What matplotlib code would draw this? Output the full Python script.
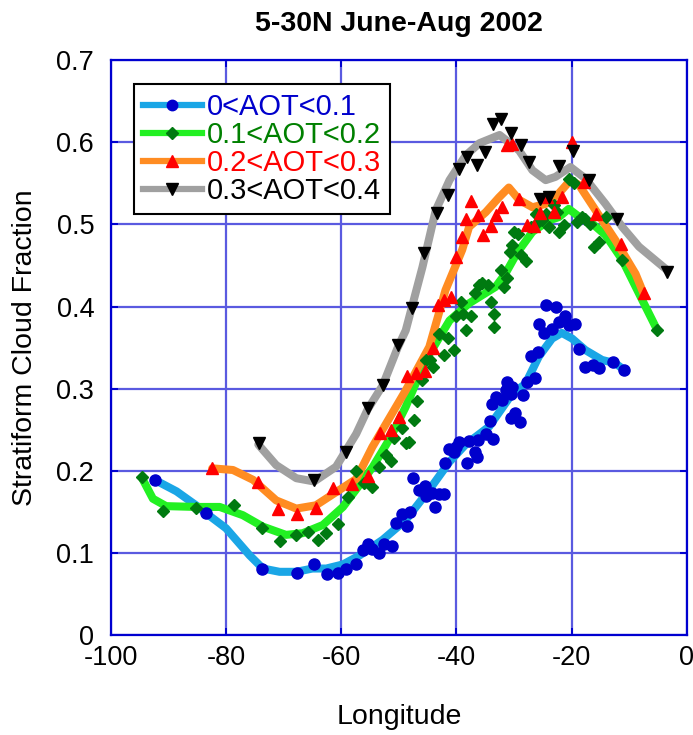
import numpy as np
import matplotlib
matplotlib.use("Agg")
import matplotlib.pyplot as plt
from matplotlib.lines import Line2D

plt.rcParams['font.family'] = ['Liberation Sans', 'DejaVu Sans']
plt.rcParams['axes.unicode_minus'] = False

# 0<AOT<0.1 : binned points and smoothed curve
aot1_lon = [-92.4, -83.5, -73.8, -67.7, -64.7, -62.5, -60.6, -59.1, -57.5, -56.3,
            -55.3, -54.6, -53.5, -52.5, -51.1, -50.5, -49.5, -48.6, -48.1, -47.6,
            -46.5, -45.4, -45.2, -44.3, -43.8, -43.1, -42.1, -41.9, -41.3, -40.1,
            -40.4, -39.5, -38.1, -37.9, -36.7, -36.5, -36.2, -34.9, -34.2, -33.6,
            -33.9, -33.2, -32.0, -31.4, -31.2, -30.6, -30.4, -30.6, -29.8, -28.9,
            -28.5, -27.7, -26.3, -27.1, -25.8, -25.7, -24.8, -24.4, -22.7, -23.4,
            -22.2, -21.1, -20.5, -19.4, -18.7, -17.6, -16.3, -15.3, -12.8, -10.9]
aot1_cf = [0.189, 0.149, 0.080, 0.076, 0.087, 0.074, 0.076, 0.081, 0.087, 0.103,
           0.111, 0.105, 0.100, 0.111, 0.108, 0.137, 0.147, 0.133, 0.150, 0.191,
           0.177, 0.181, 0.169, 0.173, 0.156, 0.172, 0.172, 0.210, 0.226, 0.229,
           0.223, 0.235, 0.210, 0.236, 0.223, 0.217, 0.237, 0.245, 0.261, 0.239,
           0.281, 0.290, 0.286, 0.298, 0.308, 0.294, 0.302, 0.264, 0.271, 0.260,
           0.292, 0.308, 0.313, 0.340, 0.345, 0.379, 0.368, 0.402, 0.400, 0.373,
           0.381, 0.388, 0.377, 0.379, 0.348, 0.327, 0.329, 0.325, 0.333, 0.323]
aot1_fit_lon = [-92.4, -88.6, -85.2, -83.4, -80.0, -75.9, -73.6, -70.7, -67.8, -65.0,
                -62.6, -59.7, -56.8, -52.8, -48.8, -44.7, -41.2, -38.4, -34.3, -30.3,
                -28.0, -25.7, -23.4, -21.7, -19.9, -17.6, -14.7, -12.4, -10.9]
aot1_fit_cf = [0.189, 0.175, 0.158, 0.148, 0.130, 0.097, 0.081, 0.077, 0.077, 0.081,
               0.081, 0.086, 0.097, 0.116, 0.140, 0.177, 0.211, 0.232, 0.254, 0.294,
               0.306, 0.339, 0.361, 0.368, 0.361, 0.347, 0.335, 0.331, 0.323]

# 0.1<AOT<0.2
aot2_lon = [-94.6, -90.9, -85.3, -78.7, -73.8, -70.7, -67.8, -65.7, -64.1, -62.6,
            -60.6, -58.8, -57.4, -56.0, -54.7, -53.5, -52.2, -51.4, -50.8, -49.5,
            -48.8, -48.2, -47.3, -46.9, -45.9, -45.2, -44.6, -44.0, -43.0, -42.2,
            -41.4, -40.4, -40.1, -39.2, -38.8, -38.4, -37.5, -36.7, -36.0, -35.5,
            -34.6, -34.0, -33.5, -33.5, -32.3, -31.7, -31.3, -30.7, -30.3, -30.0,
            -29.3, -28.8, -28.0, -27.1, -26.2, -25.8, -25.1, -24.4, -23.9, -23.1,
            -22.5, -22.2, -21.3, -20.5, -19.6, -19.0, -18.2, -17.6, -16.8, -16.1,
            -15.3, -14.1, -11.2, -5.1]
aot2_cf = [0.192, 0.151, 0.155, 0.158, 0.130, 0.114, 0.122, 0.126, 0.116, 0.124,
           0.135, 0.168, 0.200, 0.185, 0.180, 0.205, 0.219, 0.212, 0.240, 0.252,
           0.234, 0.235, 0.262, 0.285, 0.310, 0.335, 0.335, 0.327, 0.367, 0.341,
           0.362, 0.347, 0.388, 0.406, 0.391, 0.371, 0.388, 0.416, 0.426, 0.429,
           0.426, 0.406, 0.391, 0.375, 0.444, 0.424, 0.435, 0.467, 0.475, 0.491,
           0.489, 0.463, 0.455, 0.497, 0.513, 0.503, 0.505, 0.513, 0.497, 0.524,
           0.515, 0.491, 0.499, 0.556, 0.550, 0.503, 0.509, 0.507, 0.501, 0.473,
           0.479, 0.509, 0.457, 0.371]
aot2_fit_lon = [-94.5, -92.7, -90.4, -85.2, -81.1, -77.1, -73.6, -69.6, -66.7, -63.2,
                -59.7, -56.8, -54.5, -51.5, -48.8, -45.3, -41.2, -37.8, -33.2, -31.5,
                -29.5, -26.8, -23.9, -22.2, -20.5, -19.0, -16.4, -14.1, -11.2, -8.3, -5.1]
aot2_fit_cf = [0.190, 0.166, 0.157, 0.156, 0.156, 0.146, 0.132, 0.122, 0.124, 0.134,
               0.156, 0.183, 0.205, 0.240, 0.278, 0.335, 0.383, 0.404, 0.424, 0.440,
               0.465, 0.491, 0.505, 0.509, 0.519, 0.511, 0.501, 0.487, 0.457, 0.416, 0.371]

# 0.2<AOT<0.3
aot3_lon = [-82.4, -74.4, -71.0, -67.7, -64.4, -61.4, -58.2, -55.4, -53.3, -51.4,
            -49.9, -48.5, -47.0, -45.4, -44.0, -43.2, -42.1, -41.0, -40.1, -39.1,
            -38.4, -37.4, -36.2, -35.3, -34.0, -33.2, -32.1, -31.3, -30.3, -29.1,
            -27.8, -26.5, -25.5, -24.2, -23.1, -21.6, -19.9, -17.9, -15.8, -11.5, -7.5]
aot3_cf = [0.203, 0.186, 0.153, 0.147, 0.155, 0.179, 0.184, 0.194, 0.246, 0.250,
           0.266, 0.315, 0.319, 0.322, 0.349, 0.402, 0.408, 0.412, 0.461, 0.485,
           0.507, 0.528, 0.511, 0.487, 0.498, 0.511, 0.521, 0.597, 0.598, 0.531,
           0.499, 0.498, 0.514, 0.533, 0.515, 0.533, 0.601, 0.552, 0.513, 0.476, 0.417]
aot3_fit_lon = [-82.4, -78.8, -75.3, -71.3, -67.8, -64.4, -60.9, -57.4, -54.6, -48.8,
                -44.7, -41.9, -39.0, -37.8, -34.9, -32.6, -30.9, -29.1, -26.8, -24.5,
                -22.2, -20.2, -18.7, -15.8, -12.4, -8.9, -7.5]
aot3_fit_cf = [0.203, 0.201, 0.189, 0.164, 0.154, 0.158, 0.174, 0.190, 0.229, 0.298,
               0.351, 0.420, 0.469, 0.497, 0.515, 0.533, 0.545, 0.530, 0.521, 0.525,
               0.538, 0.554, 0.548, 0.517, 0.481, 0.440, 0.416]

# 0.3<AOT<0.4
aot4_lon = [-74.2, -64.7, -59.2, -55.4, -52.8, -50.2, -47.7, -45.6, -43.4, -41.5,
            -39.6, -38.1, -36.5, -35.1, -33.6, -32.2, -30.6, -28.8, -27.4, -25.5,
            -23.9, -22.2, -19.7, -16.9, -12.2, -3.5]
aot4_cf = [0.234, 0.189, 0.223, 0.277, 0.304, 0.353, 0.398, 0.465, 0.514, 0.536,
           0.568, 0.582, 0.572, 0.588, 0.622, 0.628, 0.612, 0.597, 0.576, 0.531,
           0.533, 0.571, 0.590, 0.554, 0.507, 0.442]
aot4_fit_lon = [-74.4, -71.3, -67.8, -64.7, -60.9, -57.4, -55.4, -52.8, -50.2, -48.8,
                -45.9, -43.6, -41.2, -38.4, -36.0, -32.5, -29.1, -26.8, -24.5, -22.8,
                -20.2, -17.6, -14.1, -11.2, -8.3, -3.5]
aot4_fit_cf = [0.232, 0.207, 0.191, 0.187, 0.205, 0.245, 0.275, 0.304, 0.350, 0.371,
               0.448, 0.517, 0.554, 0.584, 0.599, 0.609, 0.590, 0.566, 0.554, 0.558,
               0.570, 0.556, 0.525, 0.497, 0.473, 0.445]

labels = ['0<AOT<0.1', '0.1<AOT<0.2', '0.2<AOT<0.3', '0.3<AOT<0.4']

# (points, curve, line colour, marker colour, marker, size, legend text colour)
series = [
    (aot1_lon, aot1_cf, aot1_fit_lon, aot1_fit_cf, '#1aa6e6', '#0000cc', 'o', 8, '#0000cc'),
    (aot2_lon, aot2_cf, aot2_fit_lon, aot2_fit_cf, '#22f022', '#007a10', 'D', 6.5, '#008000'),
    (aot3_lon, aot3_cf, aot3_fit_lon, aot3_fit_cf, '#ff8c22', '#ff0000', '^', 8.5, '#ff0000'),
    (aot4_lon, aot4_cf, aot4_fit_lon, aot4_fit_cf, '#a0a0a0', '#000000', 'v', 8.5, '#000000'),
]

fig = plt.figure(figsize=(6.93, 7.35), dpi=100)
ax = fig.add_axes([0.160, 0.136, 0.831, 0.782])

handles = []
for lon, cf, flon, fcf, lcol, mcol, mk, ms, tcol in series:
    ax.plot(flon, fcf, color=lcol, lw=5.8, solid_capstyle='round',
            solid_joinstyle='round', zorder=2)
    ax.plot(lon, cf, ls='none', marker=mk, ms=ms, color=mcol, mec=mcol, zorder=3)
    handles.append(Line2D([], [], color=lcol, lw=4.5, marker=mk, ms=ms - 0.5,
                          mfc=mcol, mec=mcol))

ax.set_xlim(-100, 0)
ax.set_ylim(0, 0.7)
ax.set_xticks(np.arange(-100, 1, 20))
ax.set_yticks(np.arange(0, 0.71, 0.1))
ax.set_yticklabels(['0', '0.1', '0.2', '0.3', '0.4', '0.5', '0.6', '0.7'])
ax.grid(True, color='#5a5ae0', lw=1.6, zorder=1)
ax.set_axisbelow(True)
for s in ax.spines.values():
    s.set_color('#0000d0')
    s.set_linewidth(1.6)
ax.tick_params(direction='in', top=True, right=True, length=5, width=1.4,
               color='#0000d0', labelcolor='black', labelsize=19.5)
ax.tick_params(axis='x', pad=7)
ax.tick_params(axis='y', pad=12)

ax.set_title('5-30N June-Aug 2002', fontsize=20.5, fontweight='bold', pad=21)
ax.set_xlabel('Longitude', fontsize=20.5, labelpad=24)
ax.set_ylabel('Stratiform Cloud Fraction', fontsize=20.5, labelpad=13)

leg = ax.legend(handles, labels, loc='upper left', bbox_to_anchor=(0.041, 0.958),
                fontsize=21, handlelength=2.0, handletextpad=0.18, labelspacing=0.0,
                borderpad=0.3, borderaxespad=0, fancybox=False, framealpha=1,
                edgecolor='black')
leg.get_frame().set_linewidth(1.5)
for txt, (*_, tcol) in zip(leg.get_texts(), series):
    txt.set_color(tcol)

fig.savefig('out.png', dpi=100)
